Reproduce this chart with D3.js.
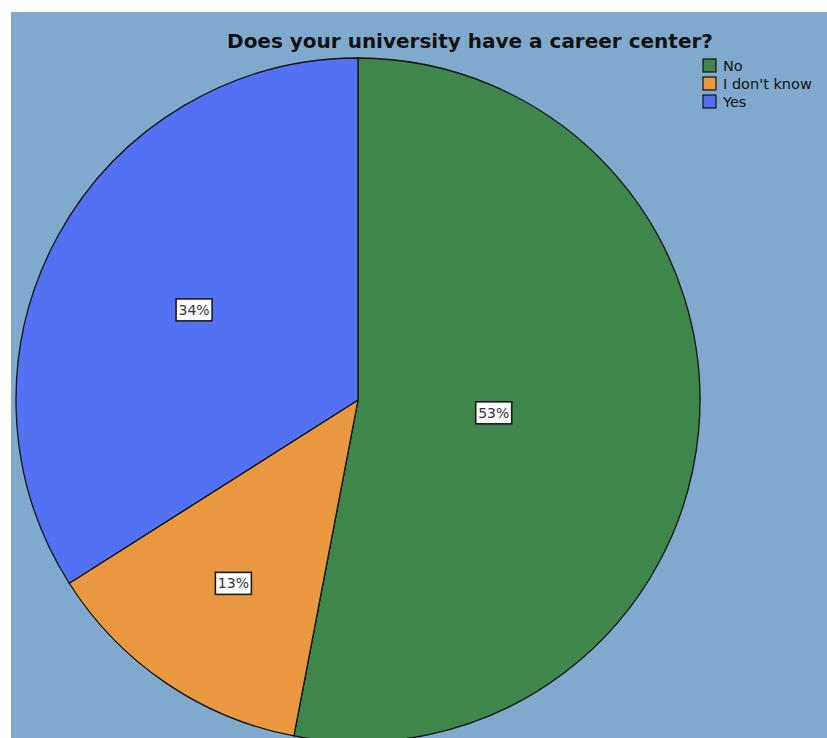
<!DOCTYPE html>
<html>
<head>
<meta charset="utf-8">
<script src="https://cdn.jsdelivr.net/npm/d3@7"></script>
<style>
  html, body { margin: 0; padding: 0; background: #ffffff; overflow: hidden; }
  svg { display: block; }
</style>
</head>
<body>
<script>
// Survey answers and their shares (percent)
const categories = ["No", "I don't know", "Yes"];
const values = [53, 13, 34];
const colors = ["#3e864a", "#e99840", "#5372f3"];
const title = "Does your university have a career center?";

const W = 827, H = 738;
const svg = d3.select("body").append("svg")
  .attr("width", W).attr("height", H);

// Plot area background
svg.append("rect")
  .attr("x", 11).attr("y", 12)
  .attr("width", W - 11).attr("height", H - 12)
  .attr("fill", "#80aacd");

const cx = 358, cy = 400, R = 342;

const pie = d3.pie().sort(null).value(d => d.value);
const arcs = pie(categories.map((c, i) => ({ name: c, value: values[i], color: colors[i] })));
const arc = d3.arc().innerRadius(0).outerRadius(R);

const g = svg.append("g").attr("transform", `translate(${cx},${cy})`);

g.selectAll("path.slice")
  .data(arcs)
  .join("path")
  .attr("class", "slice")
  .attr("d", arc)
  .attr("fill", d => d.data.color)
  .attr("stroke", "#111")
  .attr("stroke-width", 1.3)
  .attr("stroke-linejoin", "round");

// Percent labels placed at each sector's area centroid
const total = d3.sum(values);
const labels = g.selectAll("g.lbl")
  .data(arcs)
  .join("g")
  .attr("class", "lbl")
  .attr("transform", d => {
    const theta = d.endAngle - d.startAngle;
    const mid = (d.startAngle + d.endAngle) / 2;
    const dist = 4 * R * Math.sin(theta / 2) / (3 * theta);
    return `translate(${dist * Math.sin(mid)},${-dist * Math.cos(mid)})`;
  });

labels.append("rect")
  .attr("x", -18).attr("y", -11)
  .attr("width", 36).attr("height", 22)
  .attr("fill", "#ffffff")
  .attr("stroke", "#1a1a1a")
  .attr("stroke-width", 1.6);

labels.append("text")
  .attr("text-anchor", "middle")
  .attr("dy", "0.36em")
  .attr("font-family", "DejaVu Sans, sans-serif")
  .attr("font-size", 14)
  .attr("fill", "#333")
  .text(d => Math.round(d.data.value / total * 100) + "%");

// Title
svg.append("text")
  .attr("x", 470).attr("y", 48)
  .attr("text-anchor", "middle")
  .attr("font-family", "DejaVu Sans, sans-serif")
  .attr("font-weight", "bold")
  .attr("font-size", 20)
  .attr("fill", "#111")
  .text(title);

// Legend
const legend = svg.append("g").attr("transform", "translate(703,59)");
const item = legend.selectAll("g")
  .data(categories)
  .join("g")
  .attr("transform", (d, i) => `translate(0,${i * 18})`);

item.append("rect")
  .attr("width", 13).attr("height", 13)
  .attr("fill", (d, i) => colors[i])
  .attr("stroke", "#111")
  .attr("stroke-width", 1.2);

item.append("text")
  .attr("x", 20).attr("y", 7)
  .attr("dy", "0.36em")
  .attr("font-family", "DejaVu Sans, sans-serif")
  .attr("font-size", 14.5)
  .attr("fill", "#111")
  .text(d => d);
</script>
</body>
</html>
